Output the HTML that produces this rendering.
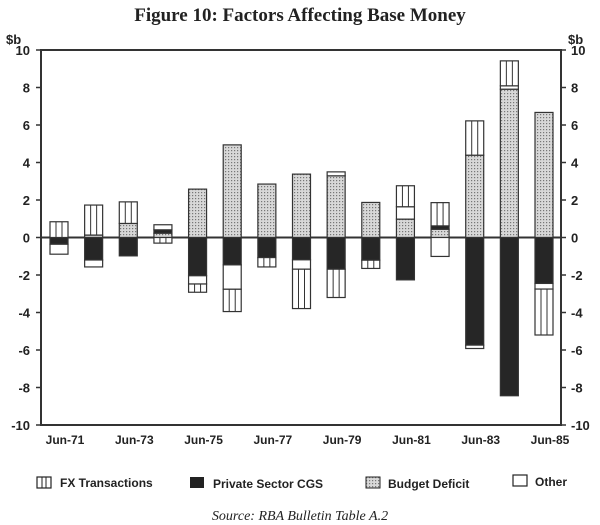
<!DOCTYPE html>
<html><head><meta charset="utf-8"><style>
body{margin:0;background:#fff;}
svg{display:block;}
text{fill:#222;}
</style></head><body>
<svg id="chart" width="600" height="525" viewBox="0 0 600 525">
<defs>
<pattern id="dots" width="3" height="3" patternUnits="userSpaceOnUse">
<rect width="3" height="3" fill="#d8d8d8"/>
<rect width="1.2" height="1.2" fill="#777"/>
</pattern>
</defs>
<text x="300" y="21" text-anchor="middle" font-family="Liberation Serif, serif" font-weight="bold" font-size="19">Figure 10: Factors Affecting Base Money</text>
<text x="6" y="44" font-family="Liberation Sans, sans-serif" font-weight="bold" font-size="13">$b</text>
<text x="568" y="44" font-family="Liberation Sans, sans-serif" font-weight="bold" font-size="13">$b</text>
<g id="axes"></g>
<g id="bars"></g>
<g id="legend" font-family="Liberation Sans, sans-serif" font-weight="bold" font-size="12">
<rect x="37" y="477" width="14" height="11" fill="#fff" stroke="#222" stroke-width="1.2"/>
<line x1="42" y1="477" x2="42" y2="488" stroke="#222"/><line x1="46" y1="477" x2="46" y2="488" stroke="#222"/>
<text x="60" y="487">FX Transactions</text>
<rect x="190" y="477" width="14" height="11" fill="#222"/>
<text x="213" y="488">Private Sector CGS</text>
<rect x="366" y="477" width="14" height="11" fill="url(#dots)" stroke="#222" stroke-width="1"/>
<text x="388" y="488">Budget Deficit</text>
<rect x="513" y="475" width="14" height="11" fill="#fff" stroke="#222" stroke-width="1.2"/>
<text x="535" y="486">Other</text>
</g>
<text x="300" y="520" text-anchor="middle" font-family="Liberation Serif, serif" font-style="italic" font-size="14">Source: RBA Bulletin Table A.2</text>
</svg>
<script>
const years = ['Jun-71','Jun-72','Jun-73','Jun-74','Jun-75','Jun-76','Jun-77','Jun-78','Jun-79','Jun-80','Jun-81','Jun-82','Jun-83','Jun-84','Jun-85'];
const budget = [0,0.13,0.75,0.23,2.58,4.94,2.85,3.38,3.29,1.87,0.98,0.44,4.39,7.91,6.67];
const privateCGS = [-0.36,-1.2,-0.98,0.18,-2.04,-1.46,-1.07,-1.19,-1.69,-1.21,-2.26,0.18,-5.74,-8.44,-2.45];
const other = [-0.53,-0.37,0,0.27,-0.44,-1.3,0,-0.5,0.21,0,0.66,-1.01,-0.18,0.18,-0.3];
const fx = [0.84,1.6,1.15,-0.3,-0.44,-1.19,-0.5,-2.1,-1.51,-0.44,1.12,1.24,1.83,1.33,-2.45];
const yTicks = [10,8,6,4,2,0,-2,-4,-6,-8,-10];
const xLabels = ['Jun-71','Jun-73','Jun-75','Jun-77','Jun-79','Jun-81','Jun-83','Jun-85'];

const NS='http://www.w3.org/2000/svg';
const L=41,R=561,T=50,B=425;
const y=v=>T+(10-v)*(B-T)/20;
const x=i=>59+i*(544-59)/(years.length-1);
const BW=18;
function mk(tag,attrs,parent){const e=document.createElementNS(NS,tag);for(const k in attrs)e.setAttribute(k,attrs[k]);parent.appendChild(e);return e;}
const axes=document.getElementById('axes'),bars=document.getElementById('bars');
const frame=mk('rect',{x:L,y:T,width:R-L,height:B-T,fill:'none',stroke:'#333','stroke-width':2},axes);


yTicks.forEach(v=>{
  mk('line',{x1:L-5,x2:L,y1:y(v),y2:y(v),stroke:'#333','stroke-width':1.5},axes);
  mk('line',{x1:R,x2:R+5,y1:y(v),y2:y(v),stroke:'#333','stroke-width':1.5},axes);
  const t1=mk('text',{x:30,y:y(v)+5,'text-anchor':'end','font-family':'Liberation Sans, sans-serif','font-weight':'bold','font-size':13},axes);
  t1.textContent=v;
  
  
  const t2=mk('text',{x:571,y:y(v)+5,'font-family':'Liberation Sans, sans-serif','font-weight':'bold','font-size':13},axes);
  t2.textContent=v;
  
  
});
xLabels.forEach(lab=>{
  const i=years.indexOf(lab);
  const t=mk('text',{x:x(i)+6,y:444,'text-anchor':'middle','font-family':'Liberation Sans, sans-serif','font-weight':'bold','font-size':12},axes);
  t.textContent=lab;
  
  
});
function seg(i,v0,v1,kind){
  const top=y(Math.max(v0,v1)),bot=y(Math.min(v0,v1));
  if(bot-top<0.3)return;
  const x0=x(i)-BW/2;
  const g=mk('g',{},bars);
  
  
  const fill=kind==='budget'?'url(#dots)':kind==='private'?'#262626':'#fff';
  mk('rect',{x:x0,y:top,width:BW,height:bot-top,fill:fill,stroke:'#333','stroke-width':1.2},g);
  if(kind==='fx'){
    mk('line',{x1:x0+6,x2:x0+6,y1:top,y2:bot,stroke:'#333','stroke-width':1},g);
    mk('line',{x1:x0+12,x2:x0+12,y1:top,y2:bot,stroke:'#333','stroke-width':1},g);
  }
}
years.forEach((yr,i)=>{
  let pos=0,neg=0;
  [['budget',budget[i]],['private',privateCGS[i]],['other',other[i]],['fx',fx[i]]].forEach(([k,v])=>{
    if(v>=0){seg(i,pos,pos+v,k);pos+=v;}else{seg(i,neg,neg+v,k);neg+=v;}
  });
});
mk('line',{x1:L,x2:R,y1:y(0),y2:y(0),stroke:'#333','stroke-width':2},axes);
</script>
</body></html>
